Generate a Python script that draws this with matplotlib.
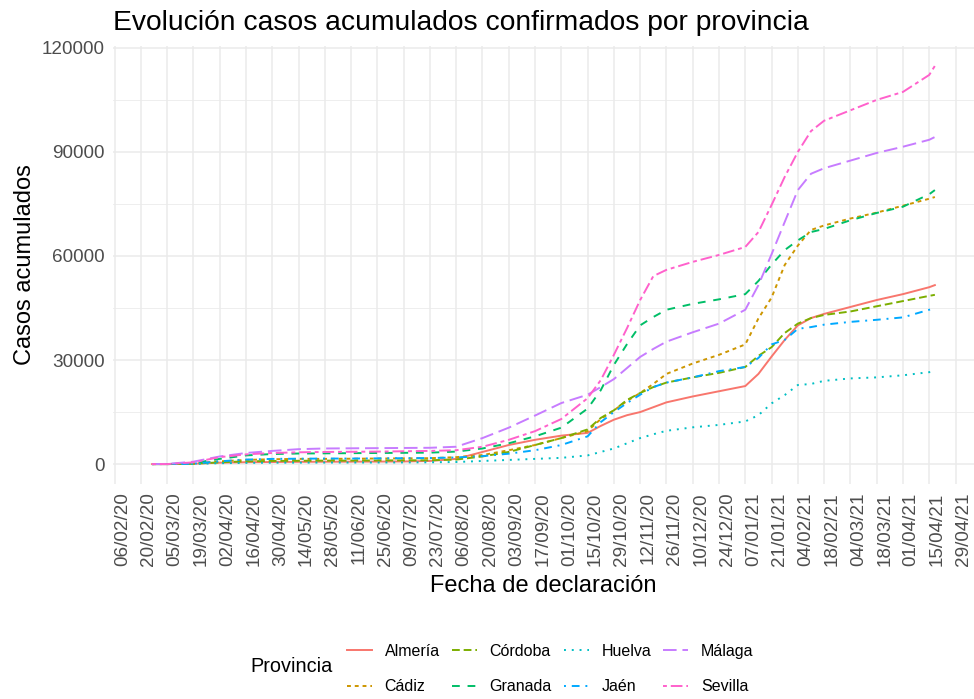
import matplotlib
matplotlib.use("Agg")
import matplotlib.pyplot as plt
from matplotlib.ticker import FixedLocator, FuncFormatter
from matplotlib.transforms import ScaledTranslation
import pandas as pd

plt.rcParams['font.family'] = ['Liberation Sans', 'DejaVu Sans']

fechas = ["2020-02-26", "2020-03-05", "2020-03-19", "2020-04-02", "2020-04-16", "2020-04-30",
          "2020-05-14", "2020-05-28", "2020-06-11", "2020-06-25", "2020-07-09", "2020-07-23",
          "2020-08-06", "2020-08-20", "2020-09-03", "2020-09-17", "2020-10-01", "2020-10-15",
          "2020-10-22", "2020-10-29", "2020-11-05", "2020-11-12", "2020-11-19", "2020-11-26",
          "2020-12-10", "2020-12-24", "2021-01-07", "2021-01-14", "2021-01-21", "2021-01-28",
          "2021-02-04", "2021-02-11", "2021-02-18", "2021-03-04", "2021-03-18", "2021-04-01",
          "2021-04-15", "2021-04-18"]

provincias = ["Almería", "Cádiz", "Córdoba", "Granada", "Huelva", "Jaén", "Málaga", "Sevilla"]

almeria = [0, 0, 100, 400, 550, 600, 650, 680, 700, 720, 760, 900, 1500, 3500, 5500, 7000, 8200, 9000,
           11000, 12800, 14100, 15000, 16400, 17800, 19500, 21000, 22500, 26000, 31000, 35800,
           40000, 42100, 43300, 45300, 47300, 49000, 51000, 51600]
cadiz = [0, 0, 200, 800, 1200, 1400, 1500, 1500, 1550, 1600, 1650, 1700, 2000, 2600, 4000, 5500, 7500, 9500,
         13000, 15500, 18200, 20500, 23100, 26000, 29000, 31500, 34500, 42000, 48000, 57400,
         63000, 67500, 68800, 70800, 72500, 74500, 76500, 77000]
cordoba = [0, 0, 100, 500, 800, 900, 950, 1000, 1000, 1050, 1080, 1100, 1300, 2200, 3500, 5500, 7500, 10000,
           13300, 15500, 18500, 20500, 22200, 23500, 25000, 26300, 28000, 31200, 33700, 37800,
           40500, 42100, 43000, 44000, 45500, 47000, 48500, 48800]
granada = [0, 0, 300, 1500, 2500, 2900, 3050, 3100, 3150, 3200, 3250, 3300, 3600, 4500, 6000, 8000, 10500, 16000,
           21300, 28600, 34600, 40000, 42400, 44500, 46200, 47500, 49000, 52800, 57500, 61700,
           64500, 66900, 67800, 70300, 72400, 74200, 77800, 79000]
huelva = [0, 0, 50, 250, 350, 400, 420, 440, 450, 460, 480, 520, 600, 900, 1200, 1500, 1800, 2500,
          3500, 4500, 6000, 7500, 8600, 9600, 10600, 11300, 12300, 14100, 17500, 19900,
          22800, 23100, 24000, 24700, 25000, 25600, 26500, 26800]
jaen = [0, 0, 100, 800, 1300, 1500, 1550, 1600, 1600, 1650, 1700, 1750, 1900, 2300, 3000, 4000, 5500, 8000,
        12100, 15000, 17600, 20000, 22200, 23500, 25000, 26800, 28000, 30600, 34500, 35800,
        39000, 39500, 40200, 41000, 41600, 42300, 44500, 45000]
malaga = [0, 50, 700, 2200, 3200, 3800, 4300, 4500, 4550, 4600, 4650, 4700, 5000, 7500, 10500, 14000, 17600, 20000,
          22200, 24500, 27700, 30900, 33200, 35300, 38000, 40500, 44500, 51600, 60500, 69800,
          79000, 83700, 85300, 87500, 89700, 91500, 93500, 94300]
sevilla = [0, 0, 500, 2000, 2800, 3200, 3400, 3500, 3550, 3600, 3700, 3800, 4000, 5000, 7000, 9500, 13000, 19000,
           24200, 31500, 39200, 47300, 54200, 56000, 58300, 60300, 62600, 66900, 74700, 82800,
           90000, 96000, 99000, 102000, 105000, 107300, 112200, 114800]

series = [almeria, cadiz, cordoba, granada, huelva, jaen, malaga, sevilla]
colores = ["#F8766D", "#CD9600", "#7CAE00", "#00BE67", "#00BFC4", "#00A9FF", "#C77CFF", "#FF61CC"]
estilos = ["-", (0, (2, 2)), (0, (4, 2)), (0, (4, 4)), (0, (1, 3)), (0, (1, 3, 4, 3)),
           (0, (7, 3)), (0, (2, 2, 6, 2))]

W, H = 974, 699
fig = plt.figure(figsize=(W / 100, H / 100), dpi=100)
left, right, top, bottom = 113, 974, 46, 484
ax = fig.add_axes([left / W, 1 - bottom / H, (right - left) / W, (bottom - top) / H])

x = pd.to_datetime(fechas)
handles = []
for nombre, vals, c, ls in zip(provincias, series, colores, estilos):
    h, = ax.plot(x, vals, color=c, linestyle=ls, linewidth=1.4, label=nombre)
    handles.append(h)

# ggplot-like 5% expansion
xmin, xmax = x.min(), x.max()
span = xmax - xmin
ax.set_xlim(xmin - span * 0.05, xmax + span * 0.05)
ymax = max(max(s) for s in series)
ax.set_ylim(-0.05 * ymax, ymax * 1.05)

ticks = pd.date_range("2020-02-06", "2021-04-29", freq="14D")
ax.set_xticks(ticks)
ax.set_xticklabels([t.strftime("%d/%m/%y") for t in ticks], rotation=90)
ax.set_yticks([0, 30000, 60000, 90000, 120000])
ax.yaxis.set_minor_locator(FixedLocator([15000, 45000, 75000, 105000]))
ax.yaxis.set_major_formatter(FuncFormatter(lambda v, p: f"{int(v)}"))

ax.tick_params(axis="both", which="both", length=0, labelsize=13.6, labelcolor="#4D4D4D")
ax.tick_params(axis="x", pad=6)
ax.tick_params(axis="y", pad=6)
off = ScaledTranslation(8 / 100, 0, fig.dpi_scale_trans)
for lab in ax.get_xticklabels():
    lab.set_transform(lab.get_transform() + off)

ax.grid(True, which="major", color="#EBEBEB", linewidth=1.1)
ax.grid(True, which="minor", axis="y", color="#EBEBEB", linewidth=0.6)
ax.set_axisbelow(True)
for s in ax.spines.values():
    s.set_visible(False)

ax.set_xlabel("Fecha de declaración", fontsize=17, labelpad=6)
ax.set_ylabel("Casos acumulados", fontsize=17, labelpad=4)

fig.text(113 / W, 1 - 30 / H, "Evolución casos acumulados confirmados por provincia",
         fontsize=20.3, ha="left", va="baseline")

fig.text(250 / W, 1 - 667 / H, "Provincia", fontsize=14.3, ha="left", va="center")
fig.legend(handles=handles, labels=provincias, ncol=4, loc="center left",
           bbox_to_anchor=(347 / W, 1 - 669 / H), frameon=False, fontsize=11.5,
           handlelength=1.56, handletextpad=0.8, columnspacing=0.75, labelspacing=1.3,
           borderpad=0, borderaxespad=0)

fig.savefig("out.png", dpi=100, facecolor="white")
